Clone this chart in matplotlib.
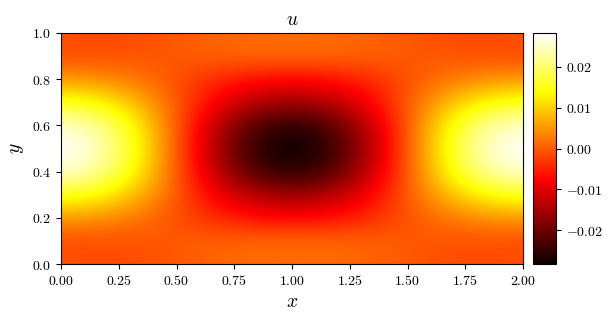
import numpy as np
import matplotlib
matplotlib.use("Agg")
import matplotlib.pyplot as plt
from matplotlib.ticker import FuncFormatter

plt.rcParams['mathtext.fontset'] = 'cm'
plt.rcParams['font.family'] = 'serif'
plt.rcParams['font.serif'] = ['DejaVu Serif']

x_nodes = [0.0, 0.125, 0.25, 0.375, 0.5, 0.625, 0.75, 0.875, 1.0,
           1.125, 1.25, 1.375, 1.5, 1.625, 1.75, 1.875, 2.0]
y_nodes = [0.0, 0.1, 0.2, 0.3, 0.4, 0.5, 0.6, 0.7, 0.8, 0.9, 1.0]

# u values (x 1e-3), one row per y node, bottom to top
u_y00 = [-0.8, -1.2, -1.4, -1.0, -0.2, 0.5, 1.0, 1.3, 1.4, 1.3, 1.0, 0.5, -0.2, -1.0, -1.4, -1.2, -0.8]
u_y01 = [-1.4, -1.3, -1.0, -0.5, 0.0, 0.5, 1.0, 1.3, 1.4, 1.3, 1.0, 0.5, 0.0, -0.5, -1.0, -1.3, -1.4]
u_y02 = [5.2, 4.7, 3.4, 1.4, -1.0, -3.4, -5.4, -6.7, -7.2, -6.7, -5.4, -3.4, -1.0, 1.4, 3.4, 4.7, 5.2]
u_y03 = [15.6, 14.4, 11.0, 6.0, 0.0, -6.0, -11.0, -14.4, -15.6, -14.4, -11.0, -6.0, 0.0, 6.0, 11.0, 14.4, 15.6]
u_y04 = [25.5, 23.6, 18.0, 9.8, 0.0, -9.8, -18.0, -23.6, -25.5, -23.6, -18.0, -9.8, 0.0, 9.8, 18.0, 23.6, 25.5]
u_y05 = [28.3, 26.1, 20.0, 10.8, 0.0, -10.8, -20.0, -26.1, -28.3, -26.1, -20.0, -10.8, 0.0, 10.8, 20.0, 26.1, 28.3]
u_y06 = [25.5, 23.6, 18.0, 9.8, 0.0, -9.8, -18.0, -23.6, -25.5, -23.6, -18.0, -9.8, 0.0, 9.8, 18.0, 23.6, 25.5]
u_y07 = [15.6, 14.4, 11.0, 6.0, 0.0, -6.0, -11.0, -14.4, -15.6, -14.4, -11.0, -6.0, 0.0, 6.0, 11.0, 14.4, 15.6]
u_y08 = [5.2, 4.7, 3.4, 1.4, -1.0, -3.4, -5.4, -6.7, -7.2, -6.7, -5.4, -3.4, -1.0, 1.4, 3.4, 4.7, 5.2]
u_y09 = [-1.4, -1.3, -1.0, -0.5, 0.0, 0.5, 1.0, 1.3, 1.4, 1.3, 1.0, 0.5, 0.0, -0.5, -1.0, -1.3, -1.4]
u_y10 = [-0.8, -1.2, -1.4, -1.0, -0.2, 0.5, 1.0, 1.3, 1.4, 1.3, 1.0, 0.5, -0.2, -1.0, -1.4, -1.2, -0.8]

x_ticks = [0.0, 0.25, 0.5, 0.75, 1.0, 1.25, 1.5, 1.75, 2.0]
y_ticks = [0.0, 0.2, 0.4, 0.6, 0.8, 1.0]
cb_ticks = [-0.02, -0.01, 0.0, 0.01, 0.02]
u_min, u_max = -0.0283, 0.0283

U = np.array([u_y00, u_y01, u_y02, u_y03, u_y04, u_y05,
              u_y06, u_y07, u_y08, u_y09, u_y10]) * 1e-3

dx = x_nodes[1] - x_nodes[0]
dy = y_nodes[1] - y_nodes[0]

fig = plt.figure(figsize=(6.11, 3.19), dpi=100)
ax = fig.add_axes([61/611, 55/319, 462/611, 231/319])
cax = fig.add_axes([533/611, 55/319, 23/611, 231/319])

im = ax.imshow(U, origin='lower', cmap='hot', vmin=u_min, vmax=u_max,
               interpolation='bicubic', aspect='auto',
               extent=[x_nodes[0] - dx/2, x_nodes[-1] + dx/2,
                       y_nodes[0] - dy/2, y_nodes[-1] + dy/2])
ax.set_xlim(0, 2)
ax.set_ylim(0, 1)
ax.set_xticks(x_ticks)
ax.set_yticks(y_ticks)
ax.xaxis.set_major_formatter(FuncFormatter(lambda v, p: r'$%.2f$' % v))
ax.yaxis.set_major_formatter(FuncFormatter(lambda v, p: r'$%.1f$' % v))
ax.tick_params(labelsize=10)
ax.set_xlabel(r'$x$', fontsize=14)
ax.set_ylabel(r'$y$', fontsize=14)
ax.set_title(r'$u$', fontsize=14)

cb = fig.colorbar(im, cax=cax, ticks=cb_ticks)
cb.ax.yaxis.set_major_formatter(FuncFormatter(lambda v, p: r'$%.2f$' % v))
cb.ax.tick_params(labelsize=10)

fig.savefig('out.png', dpi=100)
